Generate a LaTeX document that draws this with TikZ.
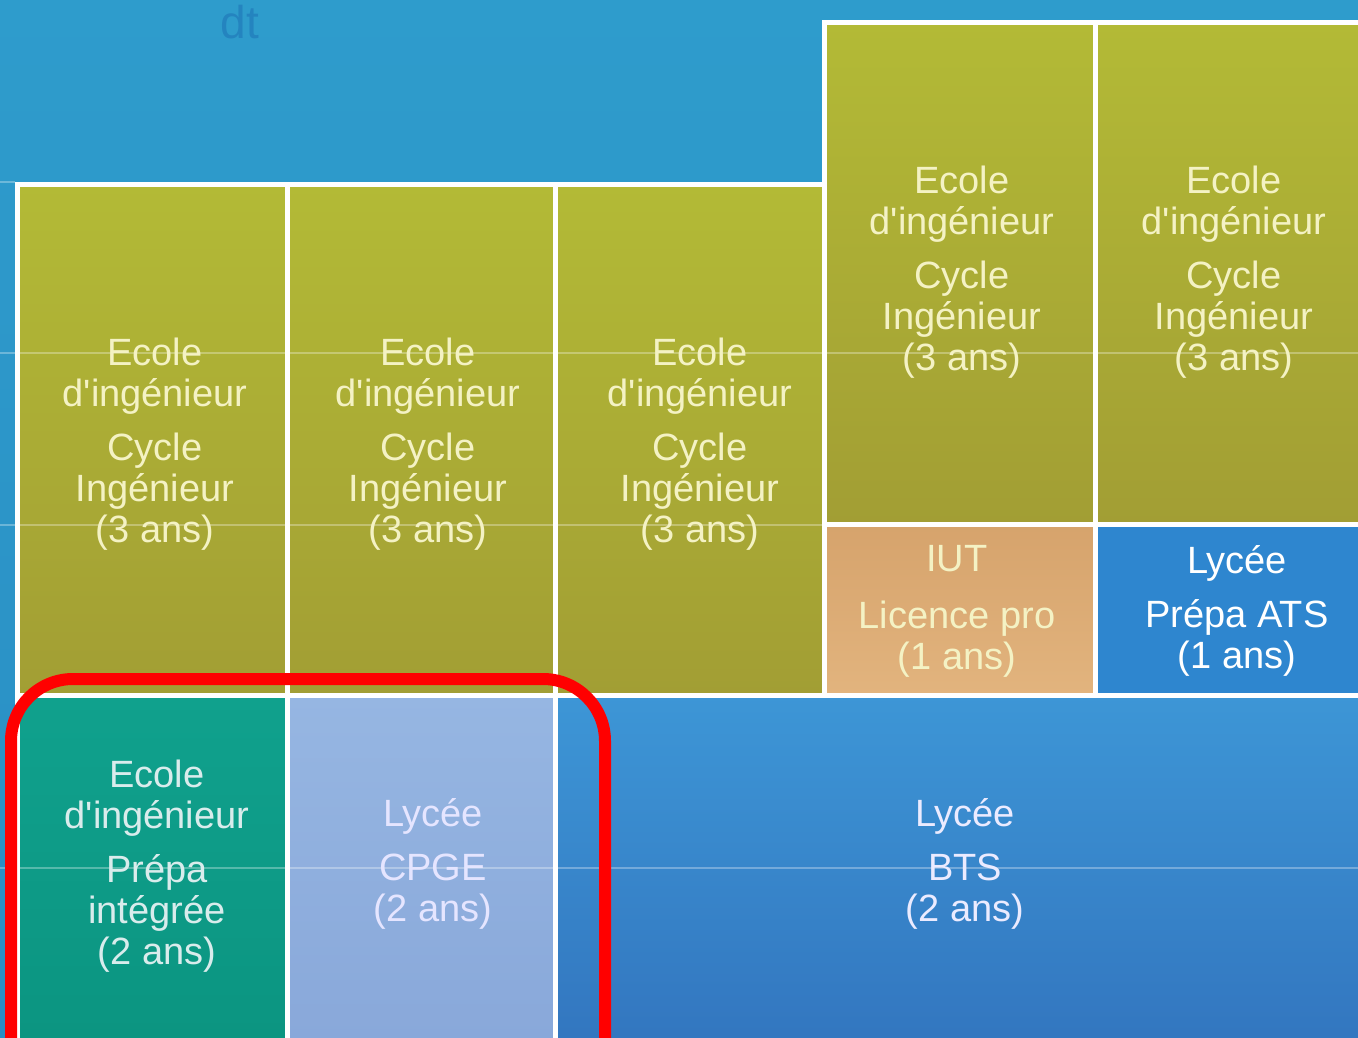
\documentclass[tikz,border=0pt]{standalone}
\usepackage{fontspec}
\setmainfont{Liberation Sans}[Ligatures=TeXOff]
\definecolor{bgtop}{HTML}{2E9CCC}
\definecolor{bgbot}{HTML}{2A8EC4}
\definecolor{gtop}{HTML}{B3BA36}
\definecolor{gbot}{HTML}{A29E34}
\definecolor{gtext}{HTML}{F4F2C4}
\definecolor{iuttop}{HTML}{D6A36C}
\definecolor{iutbot}{HTML}{E2B47E}
\definecolor{atsblue}{HTML}{2E86CF}
\definecolor{tealtop}{HTML}{10A18D}
\definecolor{tealbot}{HTML}{0B9480}
\definecolor{cptop}{HTML}{96B6E2}
\definecolor{cpbot}{HTML}{88A7D9}
\definecolor{btstop}{HTML}{3D96D6}
\definecolor{btsbot}{HTML}{3274BE}
\definecolor{hand}{HTML}{2484BF}
\begin{document}
\begin{tikzpicture}[x=1pt,y=-1pt,
  cell/.style={draw=white, line width=5pt, anchor=north west, inner sep=0pt},
  green/.style={cell, top color=gtop, bottom color=gbot},
  lbl/.style={align=center, font=\fontsize{38}{41}\selectfont}]
\useasboundingbox (0,0) rectangle (1358,1038);
\clip (0,0) rectangle (1358,1038);
\fill[top color=bgtop, bottom color=bgbot] (0,0) rectangle (1358,1038);
\node[text=hand, font=\fontsize{46}{46}\selectfont, anchor=center] (dt) at (240,22) {dt};
% upper blocks
\node[green, minimum width=270, minimum height=511] (c1) at (15,182) {};
\node[green, minimum width=268, minimum height=511] (c2) at (285,182) {};
\node[green, minimum width=269, minimum height=511] (c3) at (553,182) {};
\node[green, minimum width=271, minimum height=502] (c4) at (822,20) {};
\node[green, minimum width=280, minimum height=502] (c5) at (1093,20) {};
\node[cell, top color=iuttop, bottom color=iutbot, minimum width=271, minimum height=171] (iut) at (822,522) {};
\node[cell, fill=atsblue, minimum width=280, minimum height=171] (ats) at (1093,522) {};
% lower row
\node[cell, top color=tealtop, bottom color=tealbot, minimum width=270, minimum height=370] (pi) at (15,693) {};
\node[cell, top color=cptop, bottom color=cpbot, minimum width=268, minimum height=370] (cpge) at (285,693) {};
\node[cell, top color=btstop, bottom color=btsbot, minimum width=820, minimum height=370] (bts) at (553,693) {};
% faint grid lines
\begin{scope}[white, opacity=0.3, line width=2pt]
\draw (0,353) -- (1358,353);
\draw (0,525) -- (822,525);
\draw (0,868) -- (1358,868);
\draw (0,182) -- (15,182);
\end{scope}
% labels
\node[lbl, text=gtext] (t1) at (155,444) {Ecole\\d'ingénieur\\[13pt]Cycle\\Ingénieur\\(3 ans)};
\node[lbl, text=gtext] (t2) at (428,444) {Ecole\\d'ingénieur\\[13pt]Cycle\\Ingénieur\\(3 ans)};
\node[lbl, text=gtext] (t3) at (700,444) {Ecole\\d'ingénieur\\[13pt]Cycle\\Ingénieur\\(3 ans)};
\node[lbl, text=gtext] (t4) at (962,272) {Ecole\\d'ingénieur\\[13pt]Cycle\\Ingénieur\\(3 ans)};
\node[lbl, text=gtext] (t5) at (1234,272) {Ecole\\d'ingénieur\\[13pt]Cycle\\Ingénieur\\(3 ans)};
\node[lbl, text=gtext] (t6) at (957,611) {IUT\\[16pt]Licence pro\\(1 ans)};
\node[lbl, text=white] (t7) at (1237,611) {Lycée\\[13pt]Prépa ATS\\(1 ans)};
\node[lbl, text=white!85!teal] (t8) at (157,866) {Ecole\\d'ingénieur\\[13pt]Prépa\\intégrée\\(2 ans)};
\node[lbl, text=white!90!blue] (t9) at (433,864) {Lycée\\[13pt]CPGE\\(2 ans)};
\node[lbl, text=white!92!blue] (t10) at (965,864) {Lycée\\[13pt]BTS\\(2 ans)};
% highlight
\node[draw=red, line width=12pt, rounded corners=62pt, anchor=north west, minimum width=594, minimum height=450, inner sep=0pt] (hl) at (5,673) {};
\end{tikzpicture}
\end{document}
